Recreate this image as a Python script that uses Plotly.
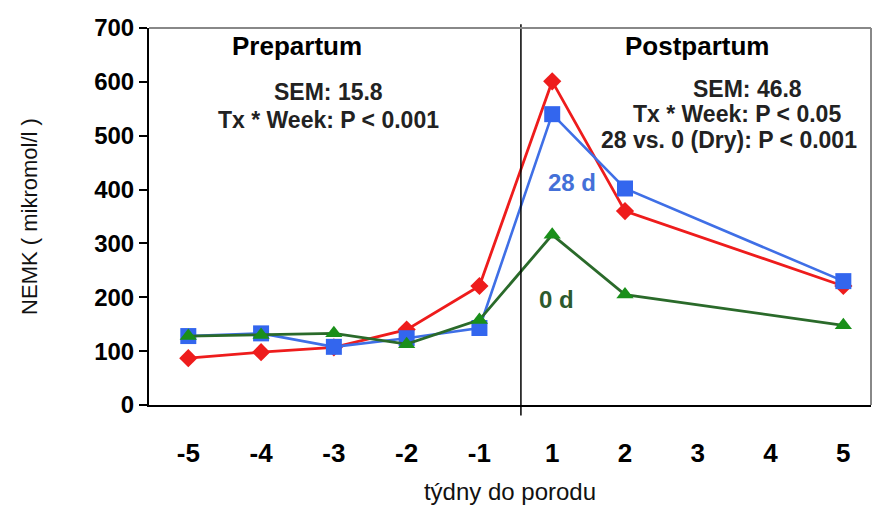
import plotly.graph_objects as go

weeks = ["-5", "-4", "-3", "-2", "-1", "1", "2", "3", "4", "5"]
red_vals = [87, 98, 107, 140, 221, 601, 360, None, None, 221]
blue_vals = [128, 133, 108, 124, 143, 540, 402, None, None, 230]
green_vals = [128, 130, 133, 113, 158, 316, 205, None, None, 148]

y_ticks = [0, 100, 200, 300, 400, 500, 600, 700]

fig = go.Figure()

fig.add_trace(go.Scatter(
    x=weeks, y=red_vals, mode="lines+markers", connectgaps=True,
    line=dict(color="#ee1c1c", width=2.8),
    marker=dict(symbol="diamond", size=14, color="#ee1c1c"),
    showlegend=False))
fig.add_trace(go.Scatter(
    x=weeks, y=blue_vals, mode="lines+markers", connectgaps=True,
    line=dict(color="#3f6fe6", width=2.6),
    marker=dict(symbol="square", size=16, color="#3366ee"),
    showlegend=False))
fig.add_trace(go.Scatter(
    x=weeks, y=green_vals, mode="lines+markers", connectgaps=True,
    line=dict(color="#2a6a2a", width=2.8),
    marker=dict(symbol="triangle-up", size=15, color="#1a8f1a"),
    showlegend=False))

# separator between prepartum and postpartum
fig.add_shape(type="line", xref="x", yref="paper", x0=4.57, x1=4.57,
              y0=-0.028, y1=1.01, line=dict(color="black", width=1.5))
# top and right frame lines
fig.add_shape(type="line", xref="paper", yref="paper", x0=0, x1=1, y0=1, y1=1,
              line=dict(color="#888888", width=2))
fig.add_shape(type="line", xref="paper", yref="paper", x0=1, x1=1, y0=0, y1=1,
              line=dict(color="#888888", width=2))

ann_font = "Liberation Sans, Arial, sans-serif"
texts = [
    ("Prepartum", 297, 46, 26, "black"),
    ("SEM: 15.8", 328, 92, 23, "#222222"),
    ("Tx * Week: P < 0.001", 328, 120, 23, "#222222"),
    ("Postpartum", 697, 46, 26, "black"),
    ("SEM: 46.8", 747, 89, 23, "#222222"),
    ("Tx * Week: P < 0.05", 737, 114, 23, "#222222"),
    ("28 vs. 0 (Dry): P < 0.001", 729, 140, 23, "#222222"),
    ("28 d", 572, 182, 24, "#4470d8"),
    ("0 d", 556, 299, 24, "#2d5a2d"),
]
for t, px, py, sz, col in texts:
    fig.add_annotation(
        text=f"<b>{t}</b>",
        xref="paper", yref="paper",
        x=(px - 149) / 722, y=1 - (py - 28) / 377,
        xanchor="center", yanchor="middle", showarrow=False,
        font=dict(family=ann_font, size=sz, color=col))

fig.update_layout(
    width=877, height=510,
    margin=dict(l=149, r=6, t=28, b=105),
    paper_bgcolor="white", plot_bgcolor="white",
    font=dict(family=ann_font, color="black"),
    xaxis=dict(
        type="category", categoryorder="array", categoryarray=weeks,
        range=[-0.54, 9.38], showgrid=False, zeroline=False,
        showline=True, linecolor="black", linewidth=2,
        ticks="", tickfont=dict(size=26, color="black", weight="bold"),
        ticklabelstandoff=24,
        title=dict(text="týdny do porodu", font=dict(size=24, color="#111111"), standoff=16),
    ),
    yaxis=dict(
        range=[0, 700], tickvals=y_ticks, showgrid=False, zeroline=False,
        showline=True, linecolor="black", linewidth=2,
        ticks="outside", ticklen=8, tickwidth=1.5, tickcolor="black",
        tickfont=dict(size=24, color="black", weight="bold"),
        title=dict(text="NEMK ( mikromol/l )", font=dict(size=22, color="#111111"), standoff=50),
    ),
)

fig.write_html("out.html")
